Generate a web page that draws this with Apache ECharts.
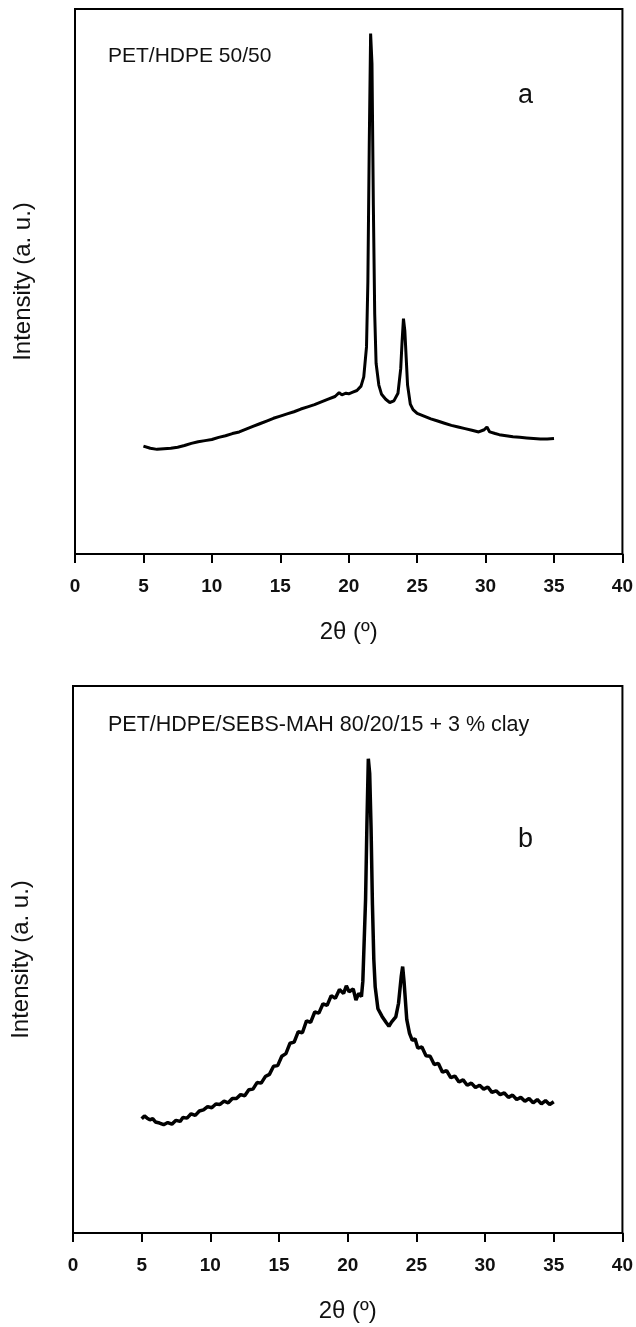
<!DOCTYPE html>
<html>
<head>
<meta charset="utf-8">
<script src="https://cdn.jsdelivr.net/npm/echarts@6/dist/echarts.min.js"></script>
<style>
html,body{margin:0;padding:0;background:#fff;}
#chart{width:636px;height:1327px;}
</style>
</head>
<body>
<div id="chart"></div>
<script>
// ---- data (2θ in degrees, intensity in arbitrary units 0-100) ----
var xTicks = [0, 5, 10, 15, 20, 25, 30, 35, 40];

var thetaA = [5.0,5.5,6.0,6.5,7.0,7.5,8.0,8.5,9.0,9.5,10.0,10.5,11.0,11.5,12.0,12.5,13.0,13.5,14.0,14.5,15.0,15.5,16.0,16.5,17.0,17.5,18.0,18.5,19.0,19.3,19.5,19.8,20.0,20.3,20.6,20.9,21.1,21.3,21.4,21.5,21.6,21.7,21.8,21.9,22.0,22.2,22.4,22.7,23.0,23.3,23.6,23.8,23.9,24.0,24.1,24.2,24.3,24.5,24.7,25.0,25.5,26.0,26.5,27.0,27.5,28.0,28.5,29.0,29.5,29.9,30.1,30.3,30.7,31.0,31.5,32.0,32.5,33.0,33.5,34.0,34.5,35.0];
var intensityA = [19.8,19.4,19.2,19.3,19.4,19.6,19.9,20.3,20.6,20.8,21.0,21.4,21.7,22.1,22.4,22.9,23.4,23.9,24.4,24.9,25.3,25.7,26.1,26.6,27.0,27.4,27.9,28.4,28.9,29.6,29.2,29.5,29.4,29.7,30.0,30.8,32.5,38,50,75,95.5,90,64,44,35,31,29.3,28.4,27.8,28.1,29.5,34,39,43.2,41,36,31,27.5,26.5,25.8,25.3,24.8,24.4,24.0,23.6,23.3,23.0,22.7,22.4,22.8,23.3,22.4,22.1,21.9,21.7,21.5,21.4,21.3,21.2,21.1,21.1,21.2];

var thetaB = [5.0,5.2,5.4,5.6,5.8,6.0,6.3,6.6,6.9,7.2,7.5,7.8,8.0,8.3,8.6,8.9,9.2,9.5,9.8,10.1,10.4,10.7,11.0,11.3,11.6,11.9,12.2,12.5,12.8,13.1,13.4,13.7,14.0,14.3,14.6,14.9,15.2,15.5,15.8,16.1,16.4,16.7,17.0,17.3,17.6,17.9,18.2,18.5,18.8,19.1,19.4,19.7,19.9,20.1,20.4,20.6,20.8,21.0,21.1,21.3,21.4,21.5,21.6,21.7,21.8,21.9,22.0,22.2,22.5,22.8,23.0,23.2,23.5,23.7,23.9,24.0,24.1,24.3,24.5,24.7,24.9,25.1,25.4,25.7,26.0,26.3,26.6,26.9,27.2,27.5,27.8,28.1,28.4,28.7,29.0,29.3,29.6,29.9,30.2,30.5,30.8,31.1,31.4,31.7,32.0,32.3,32.6,32.9,33.2,33.5,33.8,34.1,34.4,34.7,35.0];
var intensityB = [20.9,21.4,21.0,20.7,20.9,20.3,20.1,19.8,20.2,19.9,20.6,20.4,21.1,21.0,21.8,21.5,22.3,22.5,23.1,22.9,23.6,23.5,24.1,23.8,24.6,24.6,25.3,25.1,26.2,26.3,27.5,27.4,28.6,29.0,30.5,30.6,32.3,32.8,34.7,34.9,36.8,36.6,38.8,38.5,40.4,40.2,41.9,41.6,43.4,42.9,44.5,43.8,45.2,44.1,44.6,42.6,43.8,43.2,46,61,75,86.7,84,74,60,50,45,41,39.6,38.5,37.8,38.6,39.5,42,47,48.7,46,39,36.5,35.2,35.5,33.8,34.0,32.4,32.3,30.8,31.0,29.4,29.7,28.4,28.7,27.6,28.0,27.0,27.4,26.6,27.0,26.3,26.7,25.7,26.0,25.3,25.6,24.8,25.2,24.4,24.8,24.1,24.6,23.8,24.4,23.6,24.2,23.5,24.0];

var labelA = 'PET/HDPE 50/50';
var labelB = 'PET/HDPE/SEBS-MAH 80/20/15 + 3 % clay';
var panelA = 'a';
var panelB = 'b';
var xName = '2θ (º)';
var yName = 'Intensity (a. u.)';

function pairs(xs, ys) { return xs.map(function (x, i) { return [x, ys[i]]; }); }

var FONT = "'Liberation Sans', Arial, sans-serif";

function xAxisCfg(gi) {
  return {
    type: 'value', gridIndex: gi, min: 0, max: 40, interval: 5,
    name: xName, nameLocation: 'middle', nameGap: 66,
    nameTextStyle: { fontFamily: FONT, fontSize: 24, color: '#111' },
    axisLine: { show: true, onZero: false, lineStyle: { color: '#000', width: 2 } },
    axisTick: { show: true, inside: false, length: 9, lineStyle: { color: '#000', width: 2 } },
    axisLabel: { show: true, margin: 23, fontFamily: FONT, fontSize: 19, fontWeight: 'bold', color: '#111',
      formatter: function (v) { return xTicks.indexOf(v) >= 0 ? String(v) : ''; } },
    splitLine: { show: false }
  };
}
function yAxisCfg(gi) {
  return {
    type: 'value', gridIndex: gi, min: 0, max: 100,
    name: yName, nameLocation: 'middle', nameGap: 40,
    nameTextStyle: { fontFamily: FONT, fontSize: 24, color: '#111' },
    axisLine: { show: true, lineStyle: { color: '#000', width: 2 } },
    axisTick: { show: false }, axisLabel: { show: false }, splitLine: { show: false }
  };
}

var chart = echarts.init(document.getElementById('chart'), null, { renderer: 'canvas' });
chart.setOption({
  animation: false,
  backgroundColor: '#fff',
  grid: [
    { left: 75, top: 9, width: 553, height: 545, show: true, borderColor: '#000', borderWidth: 2, backgroundColor: 'transparent' },
    { left: 73, top: 686, width: 553, height: 547, show: true, borderColor: '#000', borderWidth: 2, backgroundColor: 'transparent' }
  ],
  xAxis: [xAxisCfg(0), xAxisCfg(1)],
  yAxis: [yAxisCfg(0), yAxisCfg(1)],
  series: [
    { type: 'line', xAxisIndex: 0, yAxisIndex: 0, data: pairs(thetaA, intensityA), showSymbol: false,
      lineStyle: { color: '#000', width: 3 }, silent: true },
    { type: 'line', xAxisIndex: 1, yAxisIndex: 1, data: pairs(thetaB, intensityB), showSymbol: false,
      lineStyle: { color: '#000', width: 3.5 }, silent: true }
  ],
  graphic: [
    { type: 'text', left: 108, top: 46, style: { text: labelA, font: '21px ' + FONT, fill: '#111' } },
    { type: 'text', left: 518, top: 82, style: { text: panelA, font: '27px ' + FONT, fill: '#111' } },
    { type: 'text', left: 108, top: 714, style: { text: labelB, font: '21.5px ' + FONT, fill: '#111' } },
    { type: 'text', left: 518, top: 826, style: { text: panelB, font: '27px ' + FONT, fill: '#111' } }
  ]
});
</script>
</body>
</html>
